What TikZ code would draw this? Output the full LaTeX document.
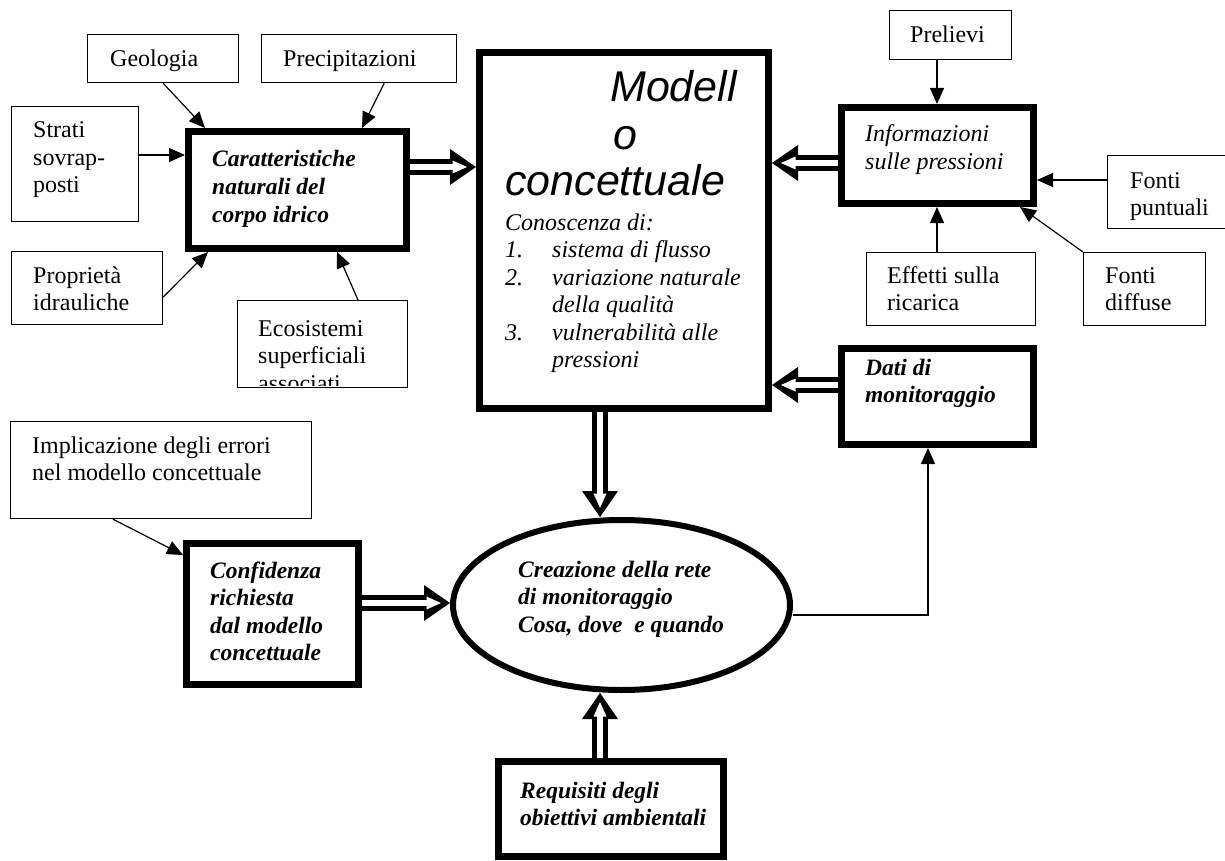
\documentclass[tikz,border=0pt]{standalone}
\usepackage{fontspec}
\setmainfont{Liberation Serif}
\newfontfamily\arialfont{Liberation Sans}
\usetikzlibrary{arrows.meta,shapes.geometric,calc}
\tikzset{
  thinbox/.style={draw, line width=1.2pt, inner sep=0pt, anchor=north west},
  thickbox/.style={draw, line width=7pt, inner sep=0pt, anchor=north west},
  txt/.style={inner sep=0pt, anchor=base west, align=left, font=\fontsize{24}{27.5}\selectfont},
  itxt/.style={txt, font=\fontsize{24}{27.5}\selectfont\itshape},
  btxt/.style={txt, font=\fontsize{23.5}{27.5}\selectfont\bfseries\itshape},
  bigtxt/.style={inner sep=0pt, anchor=base west, font=\fontsize{43}{47}\arialfont\itshape},
  arr/.style={line width=1.2pt, -{Triangle[length=16pt,width=14pt]}},
  dshaft/.style={double, double distance=6.5pt, line width=5pt},
}
% double (hollow) arrow from #1 to #2, both named coordinates
\newcommand\dblarr[2]{%
  \fill ($(#2)!0pt!(#1)$) -- ($(#2)!26pt!(#1)!18pt!90:(#2)$) -- ($(#2)!26pt!(#1)!18pt!-90:(#2)$) -- cycle;
  \draw[dshaft] (#1) -- ($(#2)!23pt!(#1)$);
  \fill[white] ($(#2)!9pt!(#1)$) -- ($(#2)!23.5pt!(#1)!6.5pt!90:(#2)$) -- ($(#2)!23.5pt!(#1)!6.5pt!-90:(#2)$) -- cycle;
}
\begin{document}
\begin{tikzpicture}[x=1pt,y=-1pt]
\useasboundingbox (0,0) rectangle (1225,861);

% thin boxes (outer corner, size)
\node[thinbox, minimum width=151pt, minimum height=48pt] (geo) at (87,34) {};
\node[thinbox, minimum width=195pt, minimum height=48pt] (prec) at (261,34) {};
\node[thinbox, minimum width=127pt, minimum height=115pt] (strati) at (11,106) {};
\node[thinbox, minimum width=151pt, minimum height=73pt] (prop) at (11,251) {};
\node[thinbox, minimum width=170pt, minimum height=87pt] (eco) at (237,300) {};
\node[thinbox, minimum width=122pt, minimum height=49pt] (prel) at (889,10) {};
\node[thinbox, minimum width=140pt, minimum height=73pt] (fp) at (1107,155) {};
\node[thinbox, minimum width=169pt, minimum height=73pt] (eff) at (866,252) {};
\node[thinbox, minimum width=122pt, minimum height=73pt] (fd) at (1083,252) {};
\node[thinbox, minimum width=301pt, minimum height=97pt] (impl) at (10,421) {};

% thick boxes (outer corner, outer size minus line width)
\node[thickbox, minimum width=218pt, minimum height=117pt] (car) at (185,128) {};
\node[thickbox, minimum width=289pt, minimum height=356pt] (mod) at (476,49) {};
\node[thickbox, minimum width=192pt, minimum height=96pt] (info) at (838,104) {};
\node[thickbox, minimum width=192pt, minimum height=96pt] (dati) at (838,345) {};
\node[thickbox, minimum width=172pt, minimum height=141pt] (conf) at (183,540) {};
\node[thickbox, minimum width=225pt, minimum height=95pt] (req) at (495,758) {};
\node[draw, ellipse, line width=6pt, inner sep=0pt, minimum width=337pt, minimum height=170pt] (ell) at (621.5,605) {};

% texts (anchored at the baseline of the last line)
\node[txt] (tgeo) at (110,67) {Geologia};
\node[txt] (tprec) at (283,67) {Precipitazioni};
\node[txt] (tstrati) at (33,193) {Strati\\sovrap-\\posti};
\node[btxt] (tcar) at (212,222) {Caratteristiche\\naturali del\\corpo idrico};
\node[txt] (tprop) at (33,310.5) {Propriet\`a\\idrauliche};
\begin{scope}
  \clip (237,300) rectangle (407,385);
  \node[txt] (teco) at (258,391) {Ecosistemi\\superficiali\\associati};
\end{scope}
\node[txt] (tprel) at (910,43) {Prelievi};
\node[itxt] (tinfo) at (865,169.5) {Informazioni\\sulle pressioni};
\node[txt] (tfp) at (1130,215.5) {Fonti\\puntuali};
\node[txt] (teff) at (887,310.5) {Effetti sulla\\ricarica};
\node[txt] (tfd) at (1105,310.5) {Fonti\\diffuse};
\node[btxt] (tdati) at (865,402.5) {Dati di\\monitoraggio};
\node[txt] (timpl) at (32,480.5) {Implicazione degli errori\\nel modello concettuale};
\node[btxt] (tconf) at (210,660.5) {Confidenza\\richiesta\\dal modello\\concettuale};
\node[btxt] (tell) at (518,632) {Creazione della rete\\di monitoraggio\\Cosa, dove\ \ e quando};
\node[btxt] (treq) at (520,825.5) {Requisiti degli\\obiettivi ambientali};

\node[bigtxt] (tmod1) at (610,102) {Modell};
\node[bigtxt] (tmod2) at (613,150) {o};
\node[bigtxt] (tmod3) at (505,195) {concettuale};
\node[itxt] (tlist) at (505,367.5) {Conoscenza di:\\
\makebox[47pt][l]{1.}sistema di flusso\\
\makebox[47pt][l]{2.}variazione naturale\\
\makebox[47pt][l]{}della qualit\`a\\
\makebox[47pt][l]{3.}vulnerabilit\`a alle\\
\makebox[47pt][l]{}pressioni};

% thin arrows
\draw[arr] (geo.south) -- ([xshift=20pt]car.north west);
\draw[arr] ([xshift=-73pt]prec.south east) -- ([xshift=-48pt]car.north east);
\draw[arr] (strati.east |- 0,155) -- (car.west |- 0,155);
\draw[arr] (prop.east |- 0,297) -- ([xshift=23pt]car.south west);
\draw[arr] ([xshift=121pt]eco.north west) -- ([xshift=-73pt]car.south east);
\draw[arr] (prel.south -| 937,0) -- (info.north -| 937,0);
\draw[arr] (fp.west |- 0,180) -- (info.east |- 0,180);
\draw[arr] (eff.north -| 937,0) -- (info.south -| 937,0);
\draw[arr] (fd.north west) -- ([xshift=-17pt]info.south east);
\draw[arr] (impl.south -| 113,0) -- (conf.west |- 0,555);
\draw[arr] (ell.east |- 0,615) -| (dati.south -| 928,0);

% double arrows: end points
\coordinate (d1a) at (car.east |- 0,167);  \coordinate (d1b) at (mod.west |- 0,167);
\coordinate (d2a) at (info.west |- 0,163); \coordinate (d2b) at (mod.east |- 0,163);
\coordinate (d3a) at (dati.west |- 0,385); \coordinate (d3b) at (mod.east |- 0,385);
\coordinate (d4a) at (mod.south -| 600,0); \coordinate (d4b) at (ell.north -| 600,0);
\coordinate (d5a) at (req.north -| 600,0); \coordinate (d5b) at (ell.south -| 600,0);
\coordinate (d6a) at (conf.east |- 0,603); \coordinate (d6b) at (ell.west |- 0,603);
\dblarr{d1a}{d1b}
\dblarr{d2a}{d2b}
\dblarr{d3a}{d3b}
\dblarr{d4a}{d4b}
\dblarr{d5a}{d5b}
\dblarr{d6a}{d6b}
\end{tikzpicture}
\end{document}
